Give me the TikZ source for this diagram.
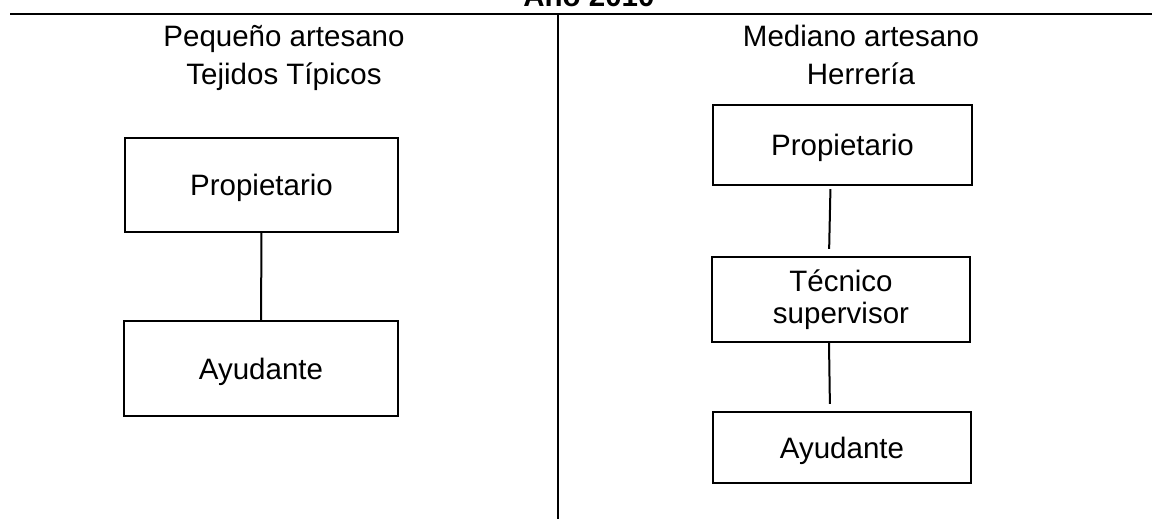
\documentclass[tikz,border=0pt]{standalone}
\usepackage{fontspec}
\setmainfont{Liberation Sans}
\usetikzlibrary{arrows}
\usetikzlibrary{shapes}

\begin{document}
\begin{tikzpicture}[x = 0.5pt, y = -0.5pt]
\tikzstyle{BoxStyle}=[shape = rectangle, draw, line width = 1.2pt, inner sep = 0pt, text depth = 0pt, align = center, font = \fontsize{14.75}{16}\selectfont]
\tikzstyle{HeadStyle}=[anchor = base, align = center, inner sep = 0pt, font = \fontsize{14.75}{19}\selectfont]
\tikzstyle{EdgeStyle}=[line width = 1pt]
\useasboundingbox (0,0) rectangle (1152,519);
\node[anchor = base, inner sep = 0pt, font = \fontsize{14.75}{18}\selectfont\bfseries] (title) at (589,6.5) {Año 2010};
\coordinate (r0) at (10,14);
\coordinate (r1) at (1152,14);
\coordinate (d0) at (558,14);
\coordinate (d1) at (558,519);
\draw[EdgeStyle] (r0) -- (r1);
\draw[EdgeStyle] (d0) -- (d1);
\node[HeadStyle] (h0) at (284,85) {Pequeño artesano\\Tejidos Típicos};
\node[HeadStyle] (h1) at (861,85) {Mediano artesano\\Herrería};
\node[BoxStyle, minimum width = 136.5pt, minimum height = 47pt] (v0) at (261.5,185) {Propietario};
\node[BoxStyle, minimum width = 137pt, minimum height = 47.5pt] (v1) at (261,368.5) {Ayudante};
\node[BoxStyle, minimum width = 129.5pt, minimum height = 40pt] (v2) at (842.5,145) {Propietario};
\node[BoxStyle, text depth = {}, minimum width = 129pt, minimum height = 42.5pt] (v3) at (841,299.5) {Técnico\\supervisor};
\node[BoxStyle, minimum width = 129pt, minimum height = 35.5pt] (v4) at (842,447.5) {Ayudante};
\draw[EdgeStyle] (v0) -- (v1);
\draw[EdgeStyle, shorten < = 1.5pt, shorten > = 3.5pt] ([xshift = -6pt]v2.south) -- ([xshift = -6pt]v3.north);
\draw[EdgeStyle, shorten > = 3.5pt] ([xshift = -6pt]v3.south) -- ([xshift = -6pt]v4.north);
\end{tikzpicture}
\end{document}
